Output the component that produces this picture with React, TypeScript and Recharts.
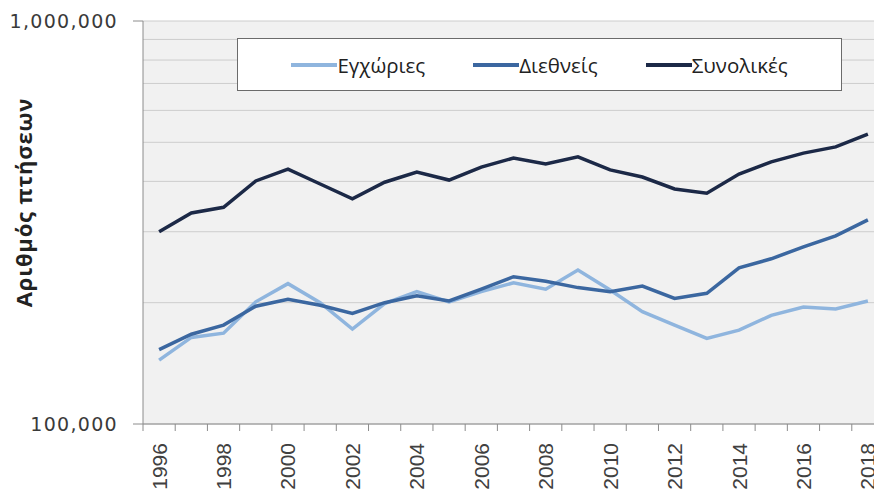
import { LineChart, Line, XAxis, YAxis, CartesianGrid, Legend, Label } from 'recharts'

const years = ['1996', '1997', '1998', '1999', '2000', '2001', '2002', '2003', '2004', '2005', '2006', '2007',
    '2008', '2009', '2010', '2011', '2012', '2013', '2014', '2015', '2016', '2017', '2018']

// Εγχώριες
const domestic = [144000, 164000, 168000, 201000, 223000, 200000, 172000, 199000, 213000, 201000, 213000, 224000,
    216000, 241000, 215000, 190000, 176000, 163000, 171000, 186000, 195000, 193000, 202000]

// Διεθνείς
const international = [153000, 167000, 176000, 196000, 204000, 197000, 188000, 200000, 208000, 202000, 216000, 232000,
    226000, 218000, 213000, 220000, 205000, 211000, 244000, 257000, 275000, 293000, 321000]

// Συνολικές
const total = [300000, 334000, 345000, 401000, 429000, 394000, 362000, 398000, 422000, 403000, 434000, 457000,
    442000, 460000, 427000, 410000, 383000, 374000, 417000, 447000, 470000, 487000, 524000]

const seriesNames = ['Εγχώριες', 'Διεθνείς', 'Συνολικές']

const yTicks = [100000, 200000, 300000, 400000, 500000, 600000, 700000, 800000, 900000, 1000000]
const yLabels = [100000, 1000000]

const COLORS = {
    domestic: '#8fb5de',
    international: '#3b67a0',
    total: '#1c2947'
}

const CHART_W = 884
const CHART_H = 494
const AXIS_W = 143
const BAND = (CHART_W - AXIS_W) / years.length

const data = years.map((year, i) => ({
    year,
    domestic: domestic[i],
    international: international[i],
    total: total[i]
}))

function XTick(props: any) {
    const { x, y, payload, index } = props
    const even = Number(payload.value) % 2 === 0
    return (
        <g>
            <line x1={x - BAND / 2} y1={y} x2={x - BAND / 2} y2={y + 7} stroke="#8c8c8c" />
            {index === years.length - 1 && (
                <line x1={x + BAND / 2} y1={y} x2={x + BAND / 2} y2={y + 7} stroke="#8c8c8c" />
            )}
            {even && (
                <text
                    x={x}
                    y={y + 19}
                    transform={`rotate(-90, ${x}, ${y + 19})`}
                    textAnchor="end"
                    dominantBaseline="central"
                    fontFamily="'Liberation Sans', Arial, sans-serif"
                    fontSize={21}
                    fill="#404040"
                >
                    {payload.value}
                </text>
            )}
        </g>
    )
}

function YTick(props: any) {
    const { x, y, payload } = props
    if (!yLabels.includes(payload.value)) return <g />
    return (
        <g>
            <line x1={x - 10} y1={y} x2={x} y2={y} stroke="#8c8c8c" />
            <text
                x={x - 25}
                y={y}
                textAnchor="end"
                dominantBaseline="central"
                fontFamily="'DejaVu Sans', sans-serif"
                fontSize={19}
                letterSpacing={1.3}
                fill="#3a3a3a"
            >
                {payload.value.toLocaleString('en-US')}
            </text>
        </g>
    )
}

function renderTitle(props: any) {
    const { viewBox } = props
    const cx = viewBox.x + 32
    const cy = viewBox.y + viewBox.height / 2 - 20
    return (
        <text
            x={cx}
            y={cy}
            transform={`rotate(-90, ${cx}, ${cy})`}
            textAnchor="middle"
            fontFamily="'Open Sans', sans-serif"
            fontWeight="bold"
            fontSize={22}
            letterSpacing={0.8}
            fill="#222"
        >
            Αριθμός πτήσεων
        </text>
    )
}

function renderLegend(props: any) {
    const payload = [...props.payload].sort(
        (a: any, b: any) => seriesNames.indexOf(a.value) - seriesNames.indexOf(b.value)
    )
    return (
        <div
            style={{
                height: '100%',
                boxSizing: 'border-box',
                border: '1.5px solid #6b6b6b',
                background: '#fff',
                display: 'flex',
                alignItems: 'center',
                justifyContent: 'center',
                gap: 48,
                fontFamily: "'Open Sans', sans-serif",
                fontSize: 20.5,
                color: '#222'
            }}
        >
            {payload.map((entry: any) => (
                <div key={entry.value} style={{ display: 'flex', alignItems: 'center' }}>
                    <span style={{ display: 'inline-block', width: 46, height: 4, background: entry.color }} />
                    <span>{entry.value}</span>
                </div>
            ))}
        </div>
    )
}

export default function App() {
    return (
        <div
            style={{
                position: 'fixed',
                left: 0,
                top: 0,
                width: 874,
                height: 494,
                overflow: 'hidden',
                background: '#fff'
            }}
        >
            <LineChart width={CHART_W} height={CHART_H} data={data} margin={{ top: 21, right: 0, bottom: 0, left: 0 }}>
                <CartesianGrid vertical={false} stroke="#cdcdcd" fill="#f1f1f1" />
                <XAxis
                    dataKey="year"
                    height={70}
                    interval={0}
                    padding={{ left: BAND / 2, right: BAND / 2 }}
                    tickLine={false}
                    tickSize={0}
                    tickMargin={0}
                    axisLine={{ stroke: '#8c8c8c' }}
                    tick={<XTick />}
                />
                <YAxis
                    width={AXIS_W}
                    scale="log"
                    domain={[100000, 1000000]}
                    allowDataOverflow
                    ticks={yTicks}
                    interval={0}
                    tickLine={false}
                    tickSize={0}
                    tickMargin={0}
                    axisLine={{ stroke: '#8c8c8c' }}
                    tick={<YTick />}
                >
                    <Label content={renderTitle} />
                </YAxis>
                <Legend
                    layout="horizontal"
                    align="center"
                    verticalAlign="middle"
                    wrapperStyle={{ left: 237, top: 38, width: 605, height: 53 }}
                    content={renderLegend}
                />
                <Line
                    type="linear"
                    dataKey="domestic"
                    name={seriesNames[0]}
                    stroke={COLORS.domestic}
                    strokeWidth={3.5}
                    dot={false}
                    isAnimationActive={false}
                />
                <Line
                    type="linear"
                    dataKey="international"
                    name={seriesNames[1]}
                    stroke={COLORS.international}
                    strokeWidth={3.5}
                    dot={false}
                    isAnimationActive={false}
                />
                <Line
                    type="linear"
                    dataKey="total"
                    name={seriesNames[2]}
                    stroke={COLORS.total}
                    strokeWidth={3.5}
                    dot={false}
                    isAnimationActive={false}
                />
            </LineChart>
        </div>
    )
}
